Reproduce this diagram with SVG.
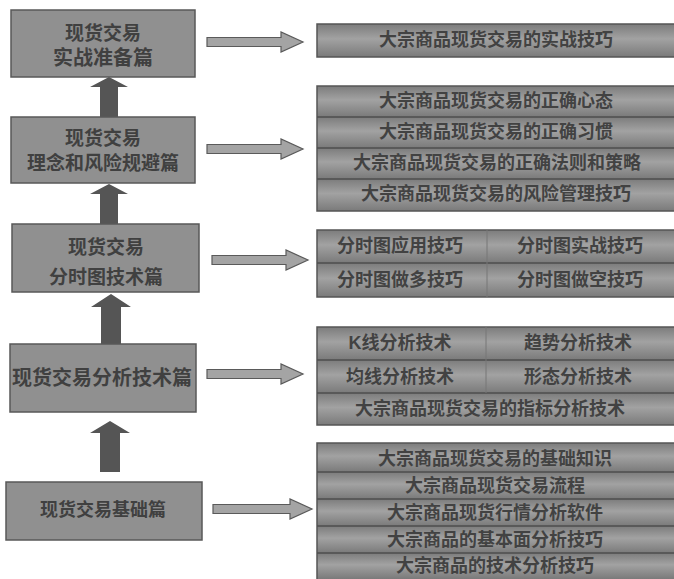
<svg xmlns="http://www.w3.org/2000/svg" width="674" height="579" viewBox="0 0 674 579">
<defs>
<linearGradient id="row" x1="0" y1="0" x2="0" y2="1">
<stop offset="0" stop-color="#7c7c7c"/>
<stop offset="0.45" stop-color="#a2a2a2"/>
<stop offset="1" stop-color="#7a7a7a"/>
</linearGradient>
<style>
.lbox{fill:#909090;stroke:#585858;stroke-width:1.5}
.ltxt{font-family:"Liberation Sans","Noto Sans CJK SC",sans-serif;font-weight:bold;fill:#404040;text-anchor:middle;dominant-baseline:central}
.rbox{fill:none;stroke:#555;stroke-width:1.5}
.rrow{fill:url(#row)}
.sep{stroke:#4e4e4e;stroke-width:1.5}
.div{stroke:#777;stroke-width:1}
.rtxt{font-family:"Liberation Sans","Noto Sans CJK SC",sans-serif;font-size:18px;font-weight:bold;fill:#424242;text-anchor:middle;dominant-baseline:central}
.up{fill:#555}
.ra{fill:#a4a4a4;stroke:#5a5a5a;stroke-width:1.2}
</style>
</defs>
<rect width="674" height="579" fill="#ffffff"/>

<g id="connectors">
<polygon class="up" points="109,77 128,87 118,87 118,117 100,117 100,87 90,87"/>
<polygon class="up" points="109,184 128,194 118,194 118,224 100,224 100,194 90,194"/>
<polygon class="up" points="111,294 131,307 121,307 121,344 101,344 101,307 91,307"/>
<polygon class="up" points="110,421 130,433 120,433 120,472 100,472 100,433 90,433"/>
<polygon class="ra" points="207,37.5 281,37.5 281,32 303,42 281,52 281,46.5 207,46.5"/>
<polygon class="ra" points="207,144.5 281,144.5 281,139 303,149 281,159 281,153.5 207,153.5"/>
<polygon class="ra" points="212,255.5 286,255.5 286,250 308,260 286,270 286,264.5 212,264.5"/>
<polygon class="ra" points="207,369.5 281,369.5 281,364 303,374 281,384 281,378.5 207,378.5"/>
<polygon class="ra" points="213,504.5 290,504.5 290,499 312,509 290,519 290,513.5 213,513.5"/>
</g>

<g id="node-l1">
<rect class="lbox" x="11" y="10" width="184" height="67"/>
<text class="ltxt" x="103" y="33" font-size="19">现货交易</text>
<text class="ltxt" x="103" y="58" font-size="20">实战准备篇</text>
</g>
<g id="node-l2">
<rect class="lbox" x="11" y="117" width="184" height="66"/>
<text class="ltxt" x="103" y="138" font-size="19">现货交易</text>
<text class="ltxt" x="103" y="163" font-size="19">理念和风险规避篇</text>
</g>
<g id="node-l3">
<rect class="lbox" x="12" y="224" width="187" height="68"/>
<text class="ltxt" x="106" y="247" font-size="19">现货交易</text>
<text class="ltxt" x="106" y="277" font-size="19">分时图技术篇</text>
</g>
<g id="node-l4">
<rect class="lbox" x="10" y="344" width="186" height="68"/>
<text class="ltxt" x="102" y="378" font-size="20">现货交易分析技术篇</text>
</g>
<g id="node-l5">
<rect class="lbox" x="6" y="482" width="196" height="58"/>
<text class="ltxt" x="103" y="510" font-size="18">现货交易基础篇</text>
</g>

<g id="node-r1">
<rect class="rrow" x="317" y="24" width="360" height="33"/>
<rect class="rbox" x="317" y="24" width="360" height="33"/>
<text class="rtxt" x="496" y="40">大宗商品现货交易的实战技巧</text>
</g>
<g id="node-r2">
<rect class="rrow" x="317" y="86" width="360" height="31"/>
<rect class="rrow" x="317" y="117" width="360" height="31"/>
<rect class="rrow" x="317" y="148" width="360" height="31"/>
<rect class="rrow" x="317" y="179" width="360" height="32"/>
<rect class="rbox" x="317" y="86" width="360" height="125"/>
<line class="sep" x1="317" y1="117" x2="677" y2="117"/>
<line class="sep" x1="317" y1="148" x2="677" y2="148"/>
<line class="sep" x1="317" y1="179" x2="677" y2="179"/>
<text class="rtxt" x="496" y="101">大宗商品现货交易的正确心态</text>
<text class="rtxt" x="496" y="132">大宗商品现货交易的正确习惯</text>
<text class="rtxt" x="497" y="163">大宗商品现货交易的正确法则和策略</text>
<text class="rtxt" x="496" y="194">大宗商品现货交易的风险管理技巧</text>
</g>
<g id="node-r3">
<rect class="rrow" x="317" y="230" width="360" height="33"/>
<rect class="rrow" x="317" y="263" width="360" height="34"/>
<rect class="rbox" x="317" y="230" width="360" height="67"/>
<line class="sep" x1="317" y1="263" x2="677" y2="263"/>
<line class="div" x1="487" y1="230" x2="487" y2="297"/>
<text class="rtxt" x="400" y="246">分时图应用技巧</text>
<text class="rtxt" x="580" y="246">分时图实战技巧</text>
<text class="rtxt" x="400" y="280">分时图做多技巧</text>
<text class="rtxt" x="580" y="280">分时图做空技巧</text>
</g>
<g id="node-r4">
<rect class="rrow" x="317" y="327" width="360" height="33"/>
<rect class="rrow" x="317" y="360" width="360" height="33"/>
<rect class="rrow" x="317" y="393" width="360" height="32"/>
<rect class="rbox" x="317" y="327" width="360" height="98"/>
<line class="sep" x1="317" y1="360" x2="677" y2="360"/>
<line class="sep" x1="317" y1="393" x2="677" y2="393"/>
<line class="div" x1="486" y1="327" x2="486" y2="393"/>
<text class="rtxt" x="400" y="343">K线分析技术</text>
<text class="rtxt" x="578" y="343">趋势分析技术</text>
<text class="rtxt" x="400" y="377">均线分析技术</text>
<text class="rtxt" x="578" y="377">形态分析技术</text>
<text class="rtxt" x="490" y="409">大宗商品现货交易的指标分析技术</text>
</g>
<g id="node-r5">
<rect class="rrow" x="317" y="443" width="360" height="29"/>
<rect class="rrow" x="317" y="472" width="360" height="27"/>
<rect class="rrow" x="317" y="499" width="360" height="27"/>
<rect class="rrow" x="317" y="526" width="360" height="27"/>
<rect class="rrow" x="317" y="553" width="360" height="26"/>
<rect class="rbox" x="317" y="443" width="360" height="140"/>
<line class="sep" x1="317" y1="472" x2="677" y2="472"/>
<line class="sep" x1="317" y1="499" x2="677" y2="499"/>
<line class="sep" x1="317" y1="526" x2="677" y2="526"/>
<line class="sep" x1="317" y1="553" x2="677" y2="553"/>
<text class="rtxt" x="495" y="459">大宗商品现货交易的基础知识</text>
<text class="rtxt" x="495" y="486">大宗商品现货交易流程</text>
<text class="rtxt" x="495" y="513">大宗商品现货行情分析软件</text>
<text class="rtxt" x="495" y="540">大宗商品的基本面分析技巧</text>
<text class="rtxt" x="495" y="566">大宗商品的技术分析技巧</text>
</g>
</svg>
